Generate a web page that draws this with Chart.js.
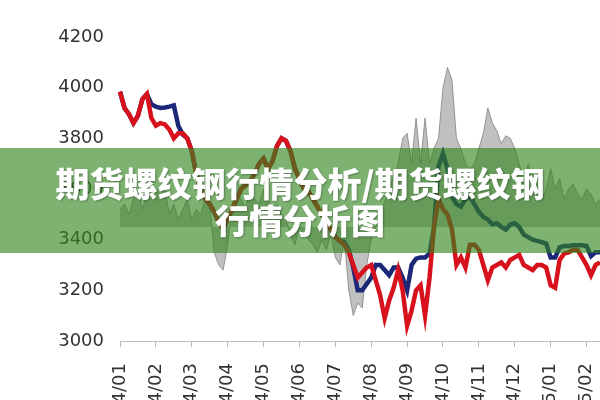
<!DOCTYPE html>
<html>
<head>
<meta charset="utf-8">
<script src="https://cdn.jsdelivr.net/npm/chart.js@4.4.1/dist/chart.umd.min.js"></script>
<style>
  body { margin: 0; background: #fff; overflow: hidden; }
  #wrap { position: relative; width: 600px; height: 400px; }
  #banner {
    position: absolute; left: 0; top: 148px; width: 600px; height: 105px;
    background: rgba(49, 133, 30, 0.63);
    color: #fff; text-align: center;
    font-family: "Noto Sans CJK SC", sans-serif; font-weight: 900; font-size: 34px;
    line-height: 37px; padding-top: 16px; box-sizing: border-box;
    text-shadow: 1px 1px 2px rgba(0, 0, 0, 0.3);
  }
</style>
</head>
<body>
<div id="wrap">
  <canvas id="priceChart" width="600" height="400"></canvas>
  <div id="banner">期货螺纹钢行情分析/期货螺纹钢<br>行情分析图</div>
</div>
<script>
// tick labels, one every 8 points
const tickLabels = ["4/01", "4/02", "4/03", "4/04", "4/05", "4/06", "4/07",
  "4/08", "4/09", "4/10", "4/11", "4/12", "5/01", "5/02"];
const pointsPerTick = 8;

const redLine = [
  3984, 3920, 3895, 3860, 3890, 3955, 3975, 3880, 3850, 3860,
  3855, 3835, 3800, 3820, 3820, 3800, 3750, 3660, 3600, 3560,
  3540, 3510, 3470, 3440, 3480, 3520, 3560, 3600, 3615, 3630,
  3660, 3700, 3720, 3680, 3710, 3770, 3800, 3790, 3750, 3680,
  3640, 3600, 3590, 3560, 3530, 3500, 3466, 3440, 3410, 3395,
  3380, 3350, 3300, 3250, 3270, 3290, 3300, 3240, 3180, 3090,
  3160, 3210, 3280, 3200, 3060, 3120, 3200, 3220, 3100, 3250,
  3450, 3560, 3520, 3500, 3440, 3300, 3330, 3290, 3380, 3380,
  3360, 3300, 3240, 3290, 3300, 3310, 3290, 3320, 3330, 3340,
  3300, 3290, 3280, 3300, 3300, 3290, 3220, 3210, 3320, 3345,
  3350, 3360, 3360, 3330, 3300, 3260, 3300, 3310
];

const navyLine = [
  3984, 3920, 3895, 3860, 3890, 3955, 3975, 3935, 3925, 3920,
  3922, 3925, 3930, 3850, 3815, 3800, 3750, 3660, 3600, 3560,
  3540, 3510, 3470, 3440, 3480, 3520, 3560, 3600, 3615, 3630,
  3660, 3700, 3720, 3680, 3710, 3770, 3800, 3790, 3750, 3680,
  3640, 3600, 3590, 3560, 3530, 3500, 3466, 3440, 3410, 3395,
  3390, 3360, 3290, 3200, 3200, 3225, 3250, 3300, 3300, 3280,
  3260, 3290, 3290, 3250, 3200, 3300, 3325, 3330, 3330, 3345,
  3450, 3690, 3740, 3680, 3570, 3540, 3530, 3560, 3570, 3540,
  3510, 3490, 3480, 3460, 3465, 3450, 3440, 3460, 3465, 3450,
  3420, 3410, 3400, 3395, 3390, 3385, 3330, 3330, 3370, 3375,
  3375, 3378, 3378, 3378, 3375, 3335, 3350, 3350
];

const grayArea = [
  3520, 3540, 3500, 3560, 3600, 3520, 3580, 3600, 3600, 3580,
  3600, 3500, 3540, 3480, 3520, 3560, 3480, 3520, 3500, 3560,
  3540, 3350, 3300, 3280, 3380, 3540, 3580, 3560, 3520, 3600,
  3560, 3540, 3600, 3560, 3520, 3540, 3500, 3480, 3420, 3380,
  3450, 3420, 3400, 3380, 3350, 3400, 3360, 3420, 3330, 3300,
  3400, 3200, 3100, 3150, 3130, 3300, 3400, 3450, 3500, 3550,
  3600, 3650, 3700, 3800, 3820, 3700, 3880, 3700, 3880, 3700,
  3760, 3800, 4000, 4080, 4030, 3800, 3760, 3700, 3680, 3700,
  3760, 3820, 3920, 3860, 3830, 3780, 3810, 3800, 3760, 3700,
  3620, 3700, 3650, 3620, 3560, 3600, 3680, 3600, 3640, 3560,
  3600, 3620, 3580, 3560, 3600, 3580, 3540, 3560
];

const labels = redLine.map((v, i) => i % pointsPerTick === 0 ? (tickLabels[i / pointsPerTick] || '') : '');

const ctx = document.getElementById("priceChart").getContext("2d");
new Chart(ctx, {
  type: 'line',
  data: {
    labels: labels,
    datasets: [
      {
        data: redLine,
        borderColor: '#d8121d',
        borderWidth: 4.5,
        pointRadius: 0,
        tension: 0,
        order: 0,
      },
      {
        data: navyLine,
        borderColor: '#1c2777',
        borderWidth: 4.5,
        pointRadius: 0,
        tension: 0,
        order: 1,
      },
      {
        data: grayArea,
        borderColor: 'rgba(130,130,130,0.8)',
        backgroundColor: 'rgba(150,150,150,0.6)',
        borderWidth: 1,
        pointRadius: 0,
        tension: 0,
        fill: { value: 3450 },
        order: 2,
      },
    ],
  },
  options: {
    responsive: false,
    animation: false,
    layout: { padding: { top: 37, right: 0, left: 0, bottom: 0 } },
    plugins: { legend: { display: false }, tooltip: { enabled: false } },
    scales: {
      x: {
        grid: { drawOnChartArea: false, tickLength: 6, color: '#bbb' },
        border: { color: '#bbb' },
        ticks: {
          autoSkip: false,
          maxRotation: 90,
          minRotation: 90,
          padding: 16,
          color: '#333',
          font: { family: 'DejaVu Sans', size: 18 },
          callback: (v, i) => labels[i] || null,
        },
        afterFit: (scale) => {
          scale.height = 59;
          scale.paddingLeft = 0;
          scale.paddingRight = 0;
        },
      },
      y: {
        min: 3000,
        max: 4200,
        grid: { display: false },
        border: { display: false },
        ticks: {
          stepSize: 200,
          padding: 8,
          color: '#333',
          font: { family: 'DejaVu Sans', size: 18 },
          callback: (v) => String(v),
        },
        afterFit: (scale) => { scale.width = 120; },
      },
    },
  },
});
</script>
</body>
</html>
